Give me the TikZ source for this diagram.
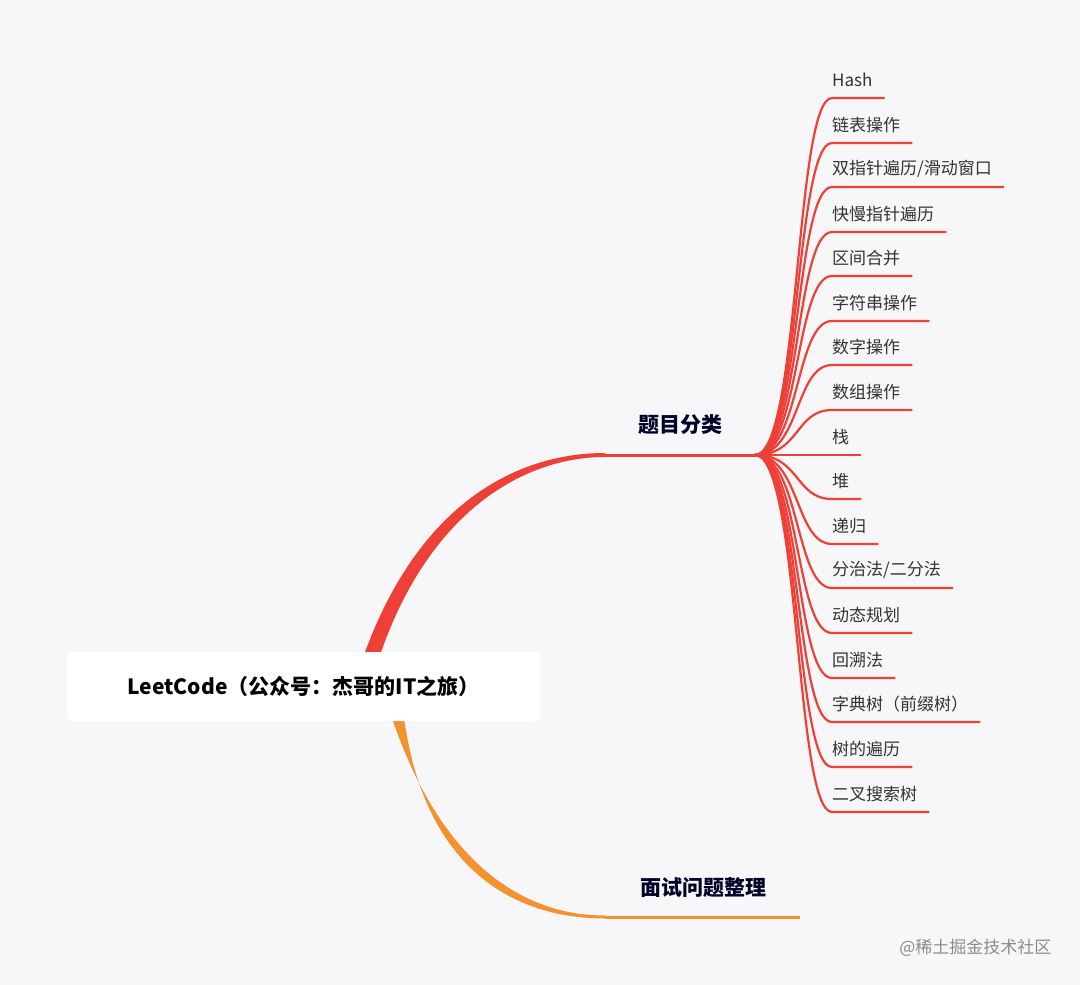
\documentclass[tikz,border=0pt]{standalone}
\usepackage{fontspec}
\setmainfont{Noto Sans CJK SC}
\begin{document}
\begin{tikzpicture}[x=1pt,y=-1pt,
  leaf/.style={anchor=west,inner sep=0pt,font=\fontsize{17}{19}\selectfont,text=black!80},
  mainlbl/.style={font=\fontsize{21}{23}\bfseries\selectfont,text=black!85!blue}]
\definecolor{red1}{HTML}{EE4036}
\definecolor{org}{HTML}{F5922F}
\definecolor{bg}{HTML}{F7F7F9}
\fill[bg] (0,0) rectangle (1080,985);
\useasboundingbox (0,0) rectangle (1080,985);
% main branches (tapered)
\fill[red1] (364,655) .. controls (420,500) and (520,453) .. (605,453) -- (605,457) .. controls (525,457) and (430,510) .. (380,655) -- cycle;
\fill[org] (392,718) .. controls (440,860) and (520,915.5) .. (605,915.5) -- (605,918.5) .. controls (515,918.5) and (425,870) .. (404,718) -- cycle;
\coordinate (fan) at (755,455);
\draw[red1,line width=3pt] (605,455) -- (fan);
\draw[org,line width=3pt] (605,917) -- (800,917);
\node[mainlbl] (t1) at (680,425) {题目分类};
\node[mainlbl] (t2) at (703,888) {面试问题整理};
\node[fill=white,rounded corners=6pt,minimum width=473pt,minimum height=69pt,font=\fontsize{21}{23}\bfseries\selectfont] (root) at (303.5,686.5) {LeetCode（公众号：杰哥的IT之旅）};
% leaves
\foreach \n/\y/\t in {a/80/Hash,b/125/链表操作,c/169/{双指针遍历/滑动窗口},d/214/快慢指针遍历,e/258/区间合并,f/303/字符串操作,g/347/数字操作,h/392/数组操作,i/437/栈,j/481/堆,k/526/递归,l/570/{分治法/二分法},m/615/动态规划,n/660/回溯法,o/704/字典树（前缀树）,p/749/树的遍历,q/794/二叉搜索树}{
  \node[leaf] (\n) at (832,\y) {\t};
  \coordinate (\n u) at (832,\y+18);
  \draw[red1,line width=2.2pt] (fan) .. controls (800,455) and (795,\y+18) .. (\n u) -- ([xshift=12pt]\n.east |- \n u);
}
\node[anchor=east,font=\fontsize{17}{19}\selectfont,text=black!45] (wm) at (1055,948) {@稀土掘金技术社区};
\end{tikzpicture}
\end{document}
